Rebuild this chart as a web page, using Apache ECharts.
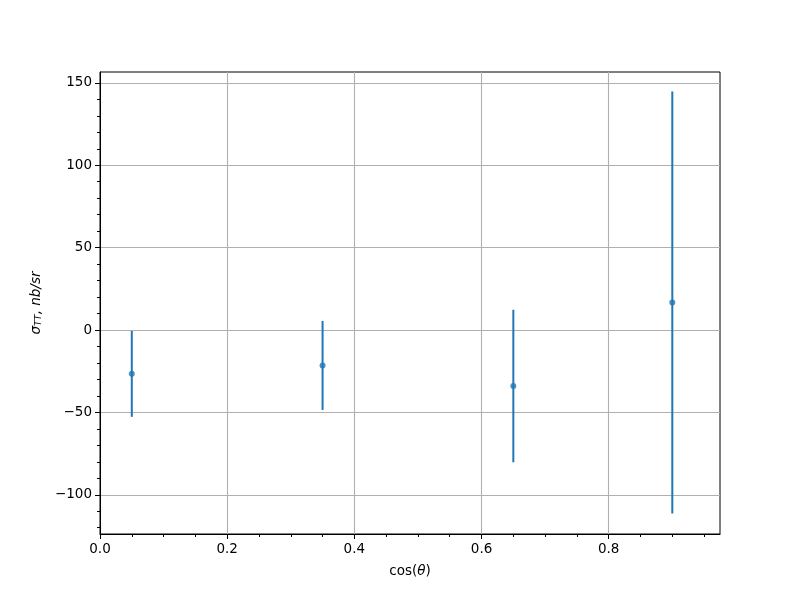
<!DOCTYPE html>
<html><head><meta charset="utf-8">
<script src="https://cdn.jsdelivr.net/npm/echarts@6/dist/echarts.min.js"></script>
<style>html,body{margin:0;padding:0;background:#fff}#c{width:800px;height:600px}</style>
</head><body><div id="c"></div><script>
const xValues = [0.05, 0.35, 0.65, 0.9];
const yValues = [-26.6, -21.5, -34.0, 16.7];
const yErrors = [26.1, 27.0, 46.3, 128.0];
const xTicks = [0, 0.2, 0.4, 0.6, 0.8];
const xTickLabels = ['0.0', '0.2', '0.4', '0.6', '0.8'];
const xMinorTicks = [0.05, 0.1, 0.15, 0.25, 0.3, 0.35, 0.45, 0.5, 0.55, 0.65, 0.7, 0.75, 0.85, 0.9, 0.95];
const yTicks = [-100, -50, 0, 50, 100, 150];
const yTickLabels = ['\u2212100', '\u221250', '0', '50', '100', '150'];
const yMinorTicks = [-120, -110, -90, -80, -70, -60, -40, -30, -20, -10, 10, 20, 30, 40, 60, 70, 80, 90, 110, 120, 130, 140];
const xRange = [0, 0.975];
const yRange = [-123.8, 156.6];

const color = '#1f77b4';
const font = 'DejaVu Sans';
const data = xValues.map((x, i) => [x, yValues[i], yErrors[i]]);

const chart = echarts.init(document.getElementById('c'), null, {renderer: 'canvas'});
const xLabelMap = {}; xTicks.forEach((t, i) => xLabelMap[t.toFixed(2)] = xTickLabels[i]);
const yLabelMap = {}; yTicks.forEach((t, i) => yLabelMap[String(t)] = yTickLabels[i]);

chart.setOption({
  animation: false,
  backgroundColor: '#fff',
  grid: {left: 100, top: 72, right: 80, bottom: 66, show: true, borderColor: '#000', borderWidth: 1, backgroundColor: 'transparent'},
  xAxis: [{
    type: 'value', min: xRange[0], max: xRange[1], position: 'bottom',
    name: '{n|cos(}{i|\u03b8}{n|)}', nameLocation: 'middle', nameGap: 30,
    nameTextStyle: {fontFamily: font, fontSize: 13.5, color: '#000',
      rich: {n: {fontFamily: font, fontSize: 13.5, color: '#000'},
             i: {fontFamily: font, fontSize: 13.5, fontStyle: 'italic', color: '#000'}}},
    axisLine: {show: true, onZero: false, lineStyle: {color: '#000', width: 1}},
    axisTick: {show: true, length: 5, lineStyle: {color: '#000', width: 1}, customValues: xTicks},
    axisLabel: {show: true, margin: 8, fontFamily: font, fontSize: 13.5, color: '#000', customValues: xTicks,
      formatter: v => xLabelMap[Number(v).toFixed(2)] ?? ''},
    splitLine: {show: true, lineStyle: {color: '#b0b0b0', width: 1.1}},
    minorTick: {show: false}
  }, {
    type: 'value', min: xRange[0], max: xRange[1], position: 'bottom',
    axisLine: {show: false, onZero: false},
    axisTick: {show: true, length: 3, lineStyle: {color: '#000', width: 1}, customValues: xMinorTicks},
    axisLabel: {show: false},
    splitLine: {show: false}
  }],
  yAxis: [{
    type: 'value', min: yRange[0], max: yRange[1], position: 'left',
    name: '{i|\u03c3}{s|TT}{i|, nb/sr}', nameLocation: 'middle', nameGap: 55, nameRotate: 90,
    nameTextStyle: {fontFamily: font, fontSize: 13.5, color: '#000',
      rich: {i: {fontFamily: font, fontSize: 13.5, fontStyle: 'italic', color: '#000'},
             s: {fontFamily: font, fontSize: 9.5, fontStyle: 'italic', color: '#000', verticalAlign: 'bottom', padding: [6, 0, 0, 0]}}},
    axisLine: {show: true, onZero: false, lineStyle: {color: '#000', width: 1}},
    axisTick: {show: true, length: 5, lineStyle: {color: '#000', width: 1}, customValues: yTicks},
    axisLabel: {show: true, margin: 8, fontFamily: font, fontSize: 13.5, color: '#000', customValues: yTicks,
      formatter: v => yLabelMap[String(Math.round(v))] ?? ''},
    splitLine: {show: true, lineStyle: {color: '#b0b0b0', width: 1.1}}
  }, {
    type: 'value', min: yRange[0], max: yRange[1], position: 'left',
    axisLine: {show: false, onZero: false},
    axisTick: {show: true, length: 3, lineStyle: {color: '#000', width: 1}, customValues: yMinorTicks},
    axisLabel: {show: false},
    splitLine: {show: false}
  }],
  series: [{
    type: 'custom', xAxisIndex: 0, yAxisIndex: 0, data: data,
    encode: {x: 0, y: 1},
    renderItem: function (params, api) {
      const x = api.value(0), y = api.value(1), e = api.value(2);
      const p1 = api.coord([x, y - e]), p2 = api.coord([x, y + e]);
      return {type: 'line', shape: {x1: p1[0], y1: p1[1], x2: p2[0], y2: p2[1]},
        style: {stroke: color, lineWidth: 2}};
    },
    z: 3
  }, {
    type: 'scatter', xAxisIndex: 0, yAxisIndex: 0,
    data: xValues.map((x, i) => [x, yValues[i]]),
    symbol: 'circle', symbolSize: 6, itemStyle: {color: color}, z: 4
  }]
});
</script></body></html>
